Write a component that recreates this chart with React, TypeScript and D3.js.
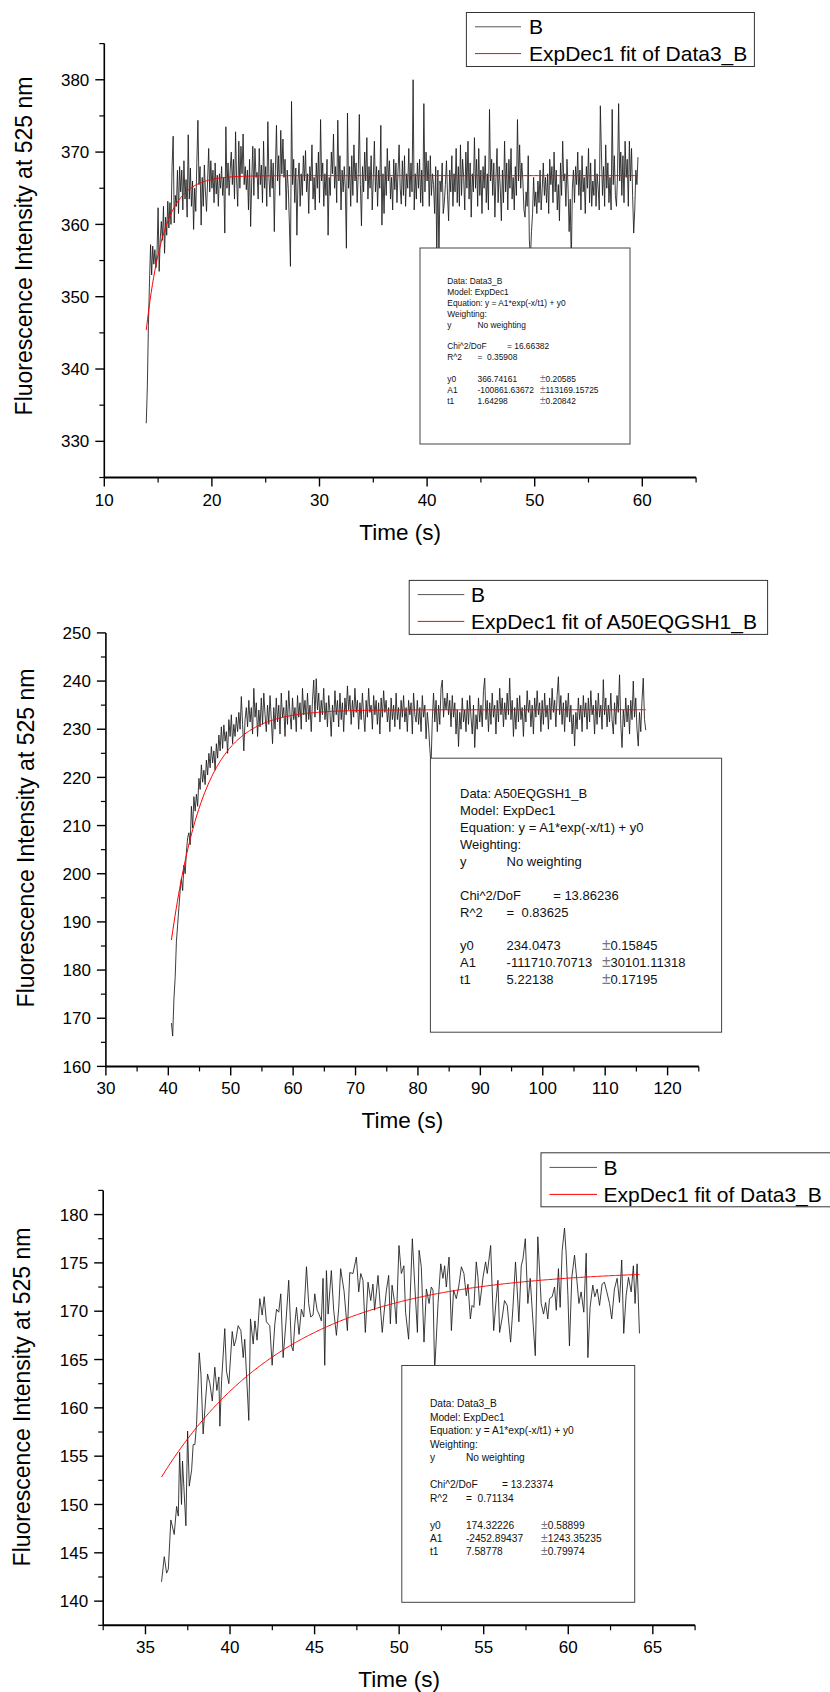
import React from 'react';
import * as d3 from 'd3';

const FONT = "'Liberation Sans', Arial, Helvetica, sans-serif";

// ---------------- Panel 1 data ----------------
const P1_T_START = 13.9;
const P1_T_END = 59.6;
const P1_VALUES = [
  332.5,337.5,346,352,357.2,353,357,354.5,356.5,354,356,362.3,353.5,358,360.4,357.8,362.5,356,361,358.5,363.2,
  359.5,363,360,368,372.2,360.2,364,362.5,367.5,361.5,
  368,364.5,367.5,362,368.8,363.5,366.2,361,372.4,363.5,
  367.8,362.5,366,359.3,365,361.8,368.5,374.4,365.5,368,
  359.9,366.5,362.5,368.2,364.5,361.8,366,370.5,364.5,368.8,
  365,367.5,363,368.5,364.2,366.8,362.5,367,365,368,
  364,366.5,358.8,373.5,365,368.5,364,367.5,370,365.5,
  369,363.5,372.8,366,362.5,371.5,365,370.8,367,372.5,
  365.5,368,364.8,367.5,362,369,359.7,366,370.8,364,
  370.5,366.5,367.2,363.5,370.5,365.5,368.2,363,371.5,365,
  368,362.5,374.2,366.5,363.8,369,365,368.5,359,367.5,
  373.7,366,369.5,364,373,367,371.8,366.5,369,362,
  367.5,365,360.2,354.2,377,365.5,369,363,367.8,358.5,
  366,368.5,362.5,367,364,369.5,366,370.2,364.5,367,
  361.5,368,366,371,363.5,366.5,362,368.5,365,370,
  363,374.5,366,368.5,362.5,367,364,369,358.5,366.5,
  364,370,367,372.5,365,368,363,374.4,366,369.5,
  362,367.5,364.5,368,365,356.7,375.4,365,368,362.5,
  369.5,364,371,366,368.5,363,367,375.2,365.5,359.8,
  368,364.5,370,366,372,363.5,368,365,369.5,362,
  366.5,371.5,364.5,368,362.5,367.5,365,373.7,359.9,367,
  361.5,368,364,370.5,366,368.8,363.5,366.5,362,369,
  364.8,368.5,363,367.5,371,365,362.8,368.8,364,369.5,
  362.5,367,365,370.5,363.8,368.5,364.5,380,362,367,
  363.5,368.5,365,369,363,367.5,362.5,376.7,364.5,370,
  366,368.8,362.5,369.5,364,367,365.5,361.5,368,356,
  367.5,355,366,364.5,368.5,361.5,363,365.5,368.8,364,
  360.5,367.5,364.5,369.5,362.5,367,364.5,370.5,363,368,
  362.5,371,364,369,366.5,362,370,365,371.5,363.5,
  368.5,361,367,364.5,372,365,369,362.5,370.5,364,
  367.5,361.5,368,365,369.5,363,367,362,375.9,366,
  369,364,368.5,361,366.5,370.5,363,368,365,360.5,
  367.5,363,371.5,364.5,368.5,362,369,365,370.5,363.5,
  366.5,362,368,364,374.5,366,371,365,368.5,366,
  362,361,364.5,362.5,369.5,358,355,359,361.5,366.5,
  362.5,364.5,361.5,366,363,367.5,362,365,368.5,364,
  366.5,363,367,361.5,369,365.5,368,363,370,364.5,
  367.5,362,365.5,360.5,368.5,364,371.5,366,367,362.5,
  369,365,359,363.5,354.5,365,367.5,363,368,365.5,
  370,364,367.5,362,369.5,364.5,366.5,361.5,368,365,
  370.5,363,368.5,362.5,366,364,369,362.5,367,365,
  362,376.4,370,364,368,362.5,371,365,368.5,363,
  366.5,362,375.9,365.5,369.5,364,362.5,367,376.7,366,
  370,364,369.5,363,371.5,366.5,369,362.5,371.5,366,
  370.5,364,358.8,362,367.5,365.5,369.3
];
const P1_X_TICKS = [10, 20, 30, 40, 50, 60];
const P1_X_MINOR = [15, 25, 35, 45, 55, 65];
const P1_Y_TICKS = [330, 340, 350, 360, 370, 380];
const P1_Y_MINOR = [325, 335, 345, 355, 365, 375, 385];
const P1_FIT = { y0: 366.74161, A1: -100861.63672, t1: 1.64298 };
const P1_LEGEND = ['B', 'ExpDec1 fit of Data3_B'];
const P1_HEAD = ['Data: Data3_B', 'Model: ExpDec1', 'Equation: y = A1*exp(-x/t1) + y0', 'Weighting:'];
const P1_CHI = '16.66382';
const P1_R2 = '0.35908';
const P1_PARAMS = [
  ['y0', '366.74161', '0.20585'],
  ['A1', '-100861.63672', '113169.15725'],
  ['t1', '1.64298', '0.20842'],
];

// ---------------- Panel 2 data ----------------
const P2_T_START = 40.5;
const P2_T_END = 116.5;
const P2_VALUES = [
  169,166.3,174,178.5,186,189.5,193,196.5,199,196.5,
  201.8,200,204.5,207.5,208.5,206,214,209.5,216,213,
  216.5,214,219.8,217.5,222.6,219,221.5,218.5,223.6,220.5,
  225,222,226.4,223,225.5,221.5,227,224,228.8,225.5,
  230.5,226,230.9,227.5,229.5,225,232,228.5,233,227,
  231,228.5,232.5,229.5,233.5,230,236.8,231,225.5,232,
  234.5,230.5,236,231.5,234.5,229,238.5,232.5,235.5,228.5,
  234,230.5,236.5,231,237.5,233,229.5,235,231,237,
  232,227,234.5,230,236.5,231.5,235,229,237.5,232.5,
  234.5,228.5,236,231,238,233,230,236.5,232,234.5,
  229.5,237,232.5,235.5,230,238.5,233,236,231.5,237.5,
  232,235,229.5,236,240.2,232.5,240.5,234,237.5,231.5,
  236,233,238.5,232,235.5,230.5,237,233.5,228.5,235,
  231.5,238,233,236,230.5,237.5,232,235.5,229.5,236.5,
  233,239,234,237,231,236,232.5,238.5,233.5,236,
  230,235.5,232,237.5,233,229.5,236,232.5,238.5,233.5,
  235,230,237,233,236,231,235.5,229,236.5,232.5,
  238,233.5,236,231.5,234.5,229.5,236.5,232,235,230.5,
  237.5,232,234.5,230,236,232.5,237,231.5,234.5,229.5,
  236,233,235.5,229,237.5,233,231.5,236,231,234.5,
  229.5,237,232.5,235,228,233.5,230.5,226,222.5,232,
  237.5,231.5,236,229.5,235,231,238.5,240.2,232.5,236.5,
  234,237.5,233,236,230.5,237,232.5,235.5,229,234,
  226.4,233.5,230,236.5,231.5,234,229.5,236,231,237,
  232.5,229,235,226.2,233,230,236.5,231.5,235,230.5,
  238,240.6,232,236,229.5,235.5,231,237.5,232.5,235,
  229,236,231.5,238.5,233,236.5,230.5,235.5,232,237.5,
  233,240.6,232,236,228.5,234.5,230,236.5,231.5,237,
  232,234.5,228.5,235,231.5,238,233.5,236,230.5,235,
  229,236.5,232.5,238,233,235.5,229.5,236,231,237.5,
  232.5,235,230,236.5,232,238.5,233.5,236,230.5,237,
  240.9,233,237,231,235.5,229.5,236,232.5,237.5,231.5,
  235,229,233,226.5,233.5,230,236.5,232,235,229.5,
  237,232.5,235.5,230,236.5,231.5,238,233,235,229,
  236,231,237.5,232.5,235,230,240.3,233,236.5,230.5,
  235,231.5,237.5,232,229,235.5,231,237,233.5,241.3,
  231,226.2,234,230.5,236.5,231.5,235,229,236,232,
  240,232.5,236.5,230,226.5,233.5,229.5,236,240.6,232,
  229.8
];
const P2_X_TICKS = [30, 40, 50, 60, 70, 80, 90, 100, 110, 120];
const P2_X_MINOR = [35, 45, 55, 65, 75, 85, 95, 105, 115, 125];
const P2_Y_TICKS = [160, 170, 180, 190, 200, 210, 220, 230, 240, 250];
const P2_Y_MINOR = [165, 175, 185, 195, 205, 215, 225, 235, 245];
const P2_FIT = { y0: 234.0473, A1: -111710.70713, t1: 5.22138 };
const P2_LEGEND = ['B', 'ExpDec1 fit of A50EQGSH1_B'];
const P2_HEAD = ['Data: A50EQGSH1_B', 'Model: ExpDec1', 'Equation: y = A1*exp(-x/t1) + y0', 'Weighting:'];
const P2_CHI = '13.86236';
const P2_R2 = '0.83625';
const P2_PARAMS = [
  ['y0', '234.0473', '0.15845'],
  ['A1', '-111710.70713', '30101.11318'],
  ['t1', '5.22138', '0.17195'],
];

// ---------------- Panel 3 data ----------------
const P3_TIMES = [
  35.95,36.11,36.25,36.35,36.5,36.7,36.84,36.94,37.02,37.13,37.19,37.39,37.49,37.59,37.73,37.82,37.92,38.02,38.18,38.28,
  38.41,38.55,38.67,38.81,38.95,39.1,39.22,39.34,39.4,39.5,39.69,39.79,39.93,40.13,40.24,40.34,40.48,40.64,40.78,40.87,
  41.11,41.21,41.37,41.47,41.6,41.76,41.9,42.02,42.15,42.35,42.49,42.65,42.75,42.88,43.0,43.14,43.3,43.47,43.63,43.73,
  43.83,43.93,44.08,44.22,44.36,44.52,44.65,44.77,44.91,45.01,45.15,45.26,45.4,45.5,45.6,45.7,45.8,45.99,46.13,46.29,
  46.43,46.54,46.74,46.94,47.08,47.27,47.47,47.61,47.73,47.86,48.0,48.16,48.32,48.45,48.55,48.75,49.0,49.1,49.24,49.38,
  49.48,49.58,49.73,49.83,49.99,50.13,50.28,50.38,50.56,50.78,
  50.92,51.08,51.18,51.31,51.47,51.61,51.77,51.9,52.0,52.1,52.3,52.46,52.59,52.69,52.79,52.95,53.09,53.22,53.38,53.52,
  53.68,53.83,53.97,54.07,54.21,54.31,54.42,54.56,54.66,54.76,54.96,55.11,55.21,55.41,55.59,55.74,55.84,55.94,56.1,56.23,
  56.39,56.59,56.73,56.88,56.98,57.08,57.22,57.32,57.46,57.61,57.75,57.91,58.05,58.2,58.4,58.54,58.66,58.79,58.89,59.05,
  59.19,59.29,59.42,59.52,59.64,59.78,59.88,59.98,60.07,60.21,60.37,60.51,60.63,60.76,60.92,61.06,61.16,61.29,61.45,61.57,
  61.71,61.85,62.0,62.14,62.28,62.44,62.57,62.73,62.89,63.03,63.16,63.28,63.42,63.56,63.72,63.85,63.95,64.07,64.21
];
const P3_VALUES = [
  142,144.6,142.9,143.3,148.4,146.9,149.8,148.8,155.4,150,154.5,147.8,157.6,151.9,153.6,156.2,156.2,158.3,165.7,163.5,
  157.3,160.7,163.5,162.5,160.7,164.2,161.8,163.2,158.1,162.8,168.2,163.8,162.5,167.9,166.4,167,168.5,168,165.2,167.1,
  158.7,169.2,166.6,169,167,171.3,169.6,171.5,168.9,168.5,164.4,168.7,170.2,169.9,171.8,165.2,168.7,173.2,166.4,165.9,
  168.7,170.4,167.6,170.2,169.4,174.6,170.8,169.4,169.6,171.8,170.1,169.7,169,173.4,164.4,174.2,169.7,174.2,170.1,167.5,
  170.4,174.4,172.1,168,174,173.9,175.6,172,173.9,173.2,167.8,173,171.1,172.8,170.1,173.7,167.8,169.7,172.1,173.7,
  168.7,172.7,170.9,168.7,176.8,173.9,174.7,169.9,167.1,177.5,
  172.8,167.8,176.3,174.6,166.8,172.3,170.8,172.5,172.2,163.8,170.8,174.9,173.4,174.7,172.5,175.6,168,172.2,171.3,172.5,
  174.6,173.9,171.6,172.8,169.2,170.6,170.4,175.1,173.5,170.6,173.5,175.1,173.9,176.8,168,171.3,173.2,167.8,169.4,171.1,
  170.6,166.8,170.4,175.1,172.2,168.9,174.7,175.4,177.5,170.8,173.4,169,165.4,177.7,170.8,169.7,170.9,169.2,171.3,171.5,
  172.5,170.1,174.4,170.4,176.3,178.6,175.8,171.6,166.4,173.5,175.8,173.2,170.8,172,169.9,176,165.2,170.4,172.7,171.5,
  172.3,170.6,172.8,173,172,170.8,169.2,172.3,173.4,170.9,175.3,167.7,171.6,173.5,172,174.7,170.8,174.9,167.7
];
const P3_X_TICKS = [35, 40, 45, 50, 55, 60, 65];
const P3_X_MINOR = [32.5, 37.5, 42.5, 47.5, 52.5, 57.5, 62.5, 67.5];
const P3_Y_TICKS = [140, 145, 150, 155, 160, 165, 170, 175, 180];
const P3_Y_MINOR = [137.5, 142.5, 147.5, 152.5, 157.5, 162.5, 167.5, 172.5, 177.5, 182.5];
const P3_FIT = { y0: 174.32226, A1: -2452.89437, t1: 7.58778 };
const P3_LEGEND = ['B', 'ExpDec1 fit of Data3_B'];
const P3_HEAD = ['Data: Data3_B', 'Model: ExpDec1', 'Equation: y = A1*exp(-x/t1) + y0', 'Weighting:'];
const P3_CHI = '13.23374';
const P3_R2 = '0.71134';
const P3_PARAMS = [
  ['y0', '174.32226', '0.58899'],
  ['A1', '-2452.89437', '1243.35235'],
  ['t1', '7.58778', '0.79974'],
];

const Y_TITLE = 'Fluorescence Intensity at 525 nm';
const X_TITLE = 'Time (s)';

function evenTimes(start: number, end: number, n: number) {
  const s = d3.scaleLinear().domain([0, n - 1]).range([start, end]);
  return d3.range(n).map((i) => s(i));
}

type Layout = {
  xDom: [number, number]; xPx: [number, number];
  yDom: [number, number]; yPx: [number, number];
  legend: { x: number; y: number; w: number; h: number; l0: number; l1: number; tx: number; r1: number; r2: number };
  stats: { x: number; y: number; w: number; h: number; font: number; row0: number; dy: number; cL: number; cV: number; cP: number; cC: number };
  yTitle: [number, number];
};

function Panel(props: {
  L: Layout; times: number[]; values: number[]; xt: number[]; xm: number[]; yt: number[]; ym: number[];
  fit: { y0: number; A1: number; t1: number }; legend: string[]; head: string[]; chi: string; r2: string; params: string[][];
}) {
  const { L, times, values, xt, xm, yt, ym, fit, legend, head, chi, r2, params } = props;
  const xs = d3.scaleLinear().domain(L.xDom).range(L.xPx);
  const ys = d3.scaleLinear().domain(L.yDom).range(L.yPx);
  const pts: [number, number][] = values.map((v, i) => [times[i], v]);
  const line = d3.line<[number, number]>().x((d) => xs(d[0])).y((d) => ys(d[1]));
  const t0 = times[0];
  const t1 = times[times.length - 1];
  const fitPts: [number, number][] = d3.range(t0, t1 + 1e-9, (t1 - t0) / 400).map((t) => [t, fit.y0 + fit.A1 * Math.exp(-t / fit.t1)]);
  const xAxisY = L.yPx[0];
  const yAxisX = L.xPx[0];
  const S = L.stats;
  const rowY = (k: number) => S.row0 + k * S.dy + S.font * 0.36;
  const tf = { fontFamily: FONT, fontSize: S.font, fill: '#111' } as const;
  return (
    <g>
      <path d={line(pts) || ''} fill="none" stroke="#1a1a1a" strokeWidth={0.85} />
      <path d={line(fitPts) || ''} fill="none" stroke="#ff0000" strokeWidth={1} />
      {/* axes */}
      <line x1={yAxisX} x2={yAxisX} y1={L.yPx[0]} y2={L.yPx[1]} stroke="#000" strokeWidth={1.6} />
      <line x1={L.xPx[0]} x2={L.xPx[1]} y1={xAxisY} y2={xAxisY} stroke="#000" strokeWidth={2} />
      {yt.map((v) => (
        <g key={'yt' + v}>
          <line x1={yAxisX - 9} x2={yAxisX} y1={ys(v)} y2={ys(v)} stroke="#000" strokeWidth={1.4} />
          <text x={yAxisX - 15} y={ys(v)} dy="0.36em" textAnchor="end" fontFamily={FONT} fontSize={17}>{v}</text>
        </g>
      ))}
      {ym.map((v) => (
        <line key={'ym' + v} x1={yAxisX - 5} x2={yAxisX} y1={ys(v)} y2={ys(v)} stroke="#000" strokeWidth={1.2} />
      ))}
      {xt.map((v) => (
        <g key={'xt' + v}>
          <line x1={xs(v)} x2={xs(v)} y1={xAxisY} y2={xAxisY + 9} stroke="#000" strokeWidth={1.4} />
          <text x={xs(v)} y={xAxisY + 28} textAnchor="middle" fontFamily={FONT} fontSize={17}>{v}</text>
        </g>
      ))}
      {xm.map((v) => (
        <line key={'xm' + v} x1={xs(v)} x2={xs(v)} y1={xAxisY} y2={xAxisY + 5} stroke="#000" strokeWidth={1.2} />
      ))}
      <text x={(L.xPx[0] + L.xPx[1]) / 2} y={xAxisY + 62} textAnchor="middle" fontFamily={FONT} fontSize={22.5}>{X_TITLE}</text>
      <text transform={`translate(${L.yTitle[0]},${L.yTitle[1]}) rotate(-90)`} dy="0.36em" textAnchor="middle" fontFamily={FONT} fontSize={23}>{Y_TITLE}</text>
      {/* stats box */}
      <rect x={S.x} y={S.y} width={S.w} height={S.h} fill="#fff" stroke="#444" strokeWidth={1} />
      {head.map((h, k) => (
        <text key={'h' + k} x={S.cL} y={rowY(k)} {...tf}>{h}</text>
      ))}
      <text x={S.cL} y={rowY(4)} {...tf}>y</text>
      <text x={S.cV} y={rowY(4)} {...tf}>No weighting</text>
      <text x={S.cL} y={rowY(6)} {...tf}>Chi^2/DoF</text>
      <text x={S.cC} y={rowY(6)} {...tf}>{'= ' + chi}</text>
      <text x={S.cL} y={rowY(7)} {...tf}>R^2</text>
      <text x={S.cV} y={rowY(7)} {...tf} style={{ whiteSpace: 'pre' }}>{'=  ' + r2}</text>
      {params.map((p, k) => (
        <g key={'p' + k}>
          <text x={S.cL} y={rowY(9 + k)} {...tf}>{p[0]}</text>
          <text x={S.cV} y={rowY(9 + k)} {...tf}>{p[1]}</text>
          <text x={S.cP} y={rowY(9 + k)} {...tf}><tspan fill="#777" fontSize={S.font * 1.2}>±</tspan>{p[2]}</text>
        </g>
      ))}
      {/* legend */}
      <rect x={L.legend.x} y={L.legend.y} width={L.legend.w} height={L.legend.h} fill="#fff" stroke="#333" strokeWidth={1} />
      <line x1={L.legend.l0} x2={L.legend.l1} y1={L.legend.r1} y2={L.legend.r1} stroke="#555" strokeWidth={1} />
      <line x1={L.legend.l0} x2={L.legend.l1} y1={L.legend.r2} y2={L.legend.r2} stroke="#ff0000" strokeWidth={1} />
      <text x={L.legend.tx} y={L.legend.r1} dy="0.36em" fontFamily={FONT} fontSize={21}>{legend[0]}</text>
      <text x={L.legend.tx} y={L.legend.r2} dy="0.36em" fontFamily={FONT} fontSize={21}>{legend[1]}</text>
    </g>
  );
}

const L1: Layout = {
  xDom: [10, 65], xPx: [104.3, 696.1],
  yDom: [325, 385], yPx: [477.5, 43.6],
  legend: { x: 466.4, y: 12.5, w: 288, h: 54, l0: 475, l1: 521, tx: 529, r1: 26.8, r2: 53.6 },
  stats: { x: 420, y: 248, w: 210, h: 196, font: 8.4, row0: 281, dy: 10.9, cL: 447.3, cV: 477.5, cP: 540, cC: 507 },
  yTitle: [24, 246],
};
const L2: Layout = {
  xDom: [30, 125], xPx: [105.9, 698.8],
  yDom: [160, 250], yPx: [1066.4, 632.9],
  legend: { x: 409.2, y: 580.4, w: 358.4, h: 54, l0: 417.7, l1: 464.3, tx: 471, r1: 594.6, r2: 621.4 },
  stats: { x: 430.4, y: 758.2, w: 291.2, h: 274, font: 13, row0: 793.6, dy: 16.9, cL: 460, cV: 506.6, cP: 601.9, cC: 553.2 },
  yTitle: [25.4, 838],
};
const L3: Layout = {
  xDom: [32.5, 67.5], xPx: [103.2, 695.1],
  yDom: [137.5, 182.5], yPx: [1625.3, 1190.4],
  legend: { x: 541, y: 1152.8, w: 290, h: 54, l0: 549.5, l1: 597, tx: 603.5, r1: 1167.4, r2: 1194.4 },
  stats: { x: 401.8, y: 1365.5, w: 232.9, h: 236.8, font: 10.2, row0: 1403.8, dy: 13.45, cL: 429.9, cV: 465.9, cP: 541, cC: 501.9 },
  yTitle: [22.2, 1397],
};

export default function App() {
  const t1 = evenTimes(P1_T_START, P1_T_END, P1_VALUES.length);
  const t2 = evenTimes(P2_T_START, P2_T_END, P2_VALUES.length);
  return (
    <svg width={830} height={1692} style={{ position: 'absolute', left: 0, top: 0, background: '#fff' }}>
      <rect x={0} y={0} width={830} height={1692} fill="#fff" />
      <Panel L={L1} times={t1} values={P1_VALUES} xt={P1_X_TICKS} xm={P1_X_MINOR} yt={P1_Y_TICKS} ym={P1_Y_MINOR}
        fit={P1_FIT} legend={P1_LEGEND} head={P1_HEAD} chi={P1_CHI} r2={P1_R2} params={P1_PARAMS} />
      <Panel L={L2} times={t2} values={P2_VALUES} xt={P2_X_TICKS} xm={P2_X_MINOR} yt={P2_Y_TICKS} ym={P2_Y_MINOR}
        fit={P2_FIT} legend={P2_LEGEND} head={P2_HEAD} chi={P2_CHI} r2={P2_R2} params={P2_PARAMS} />
      <Panel L={L3} times={P3_TIMES} values={P3_VALUES} xt={P3_X_TICKS} xm={P3_X_MINOR} yt={P3_Y_TICKS} ym={P3_Y_MINOR}
        fit={P3_FIT} legend={P3_LEGEND} head={P3_HEAD} chi={P3_CHI} r2={P3_R2} params={P3_PARAMS} />
    </svg>
  );
}
